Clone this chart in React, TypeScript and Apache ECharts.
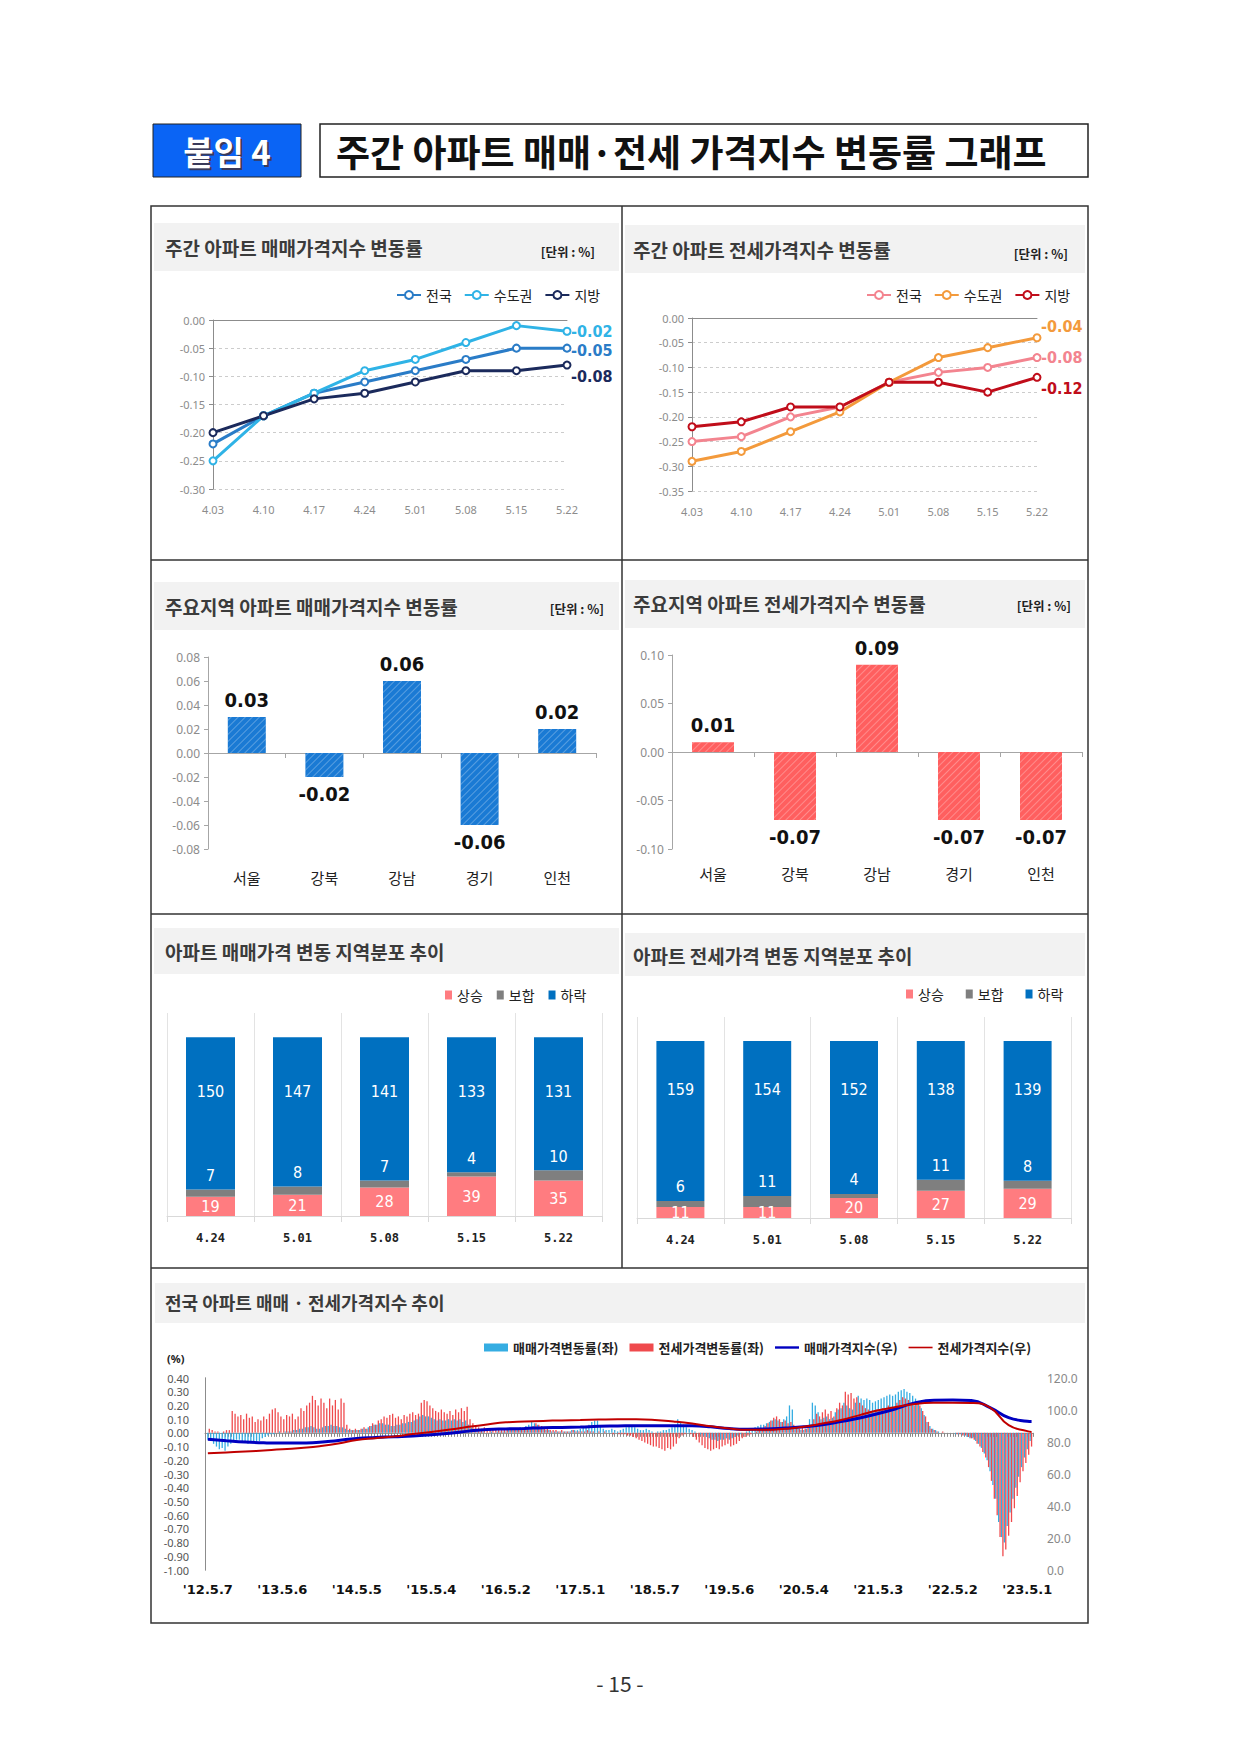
import React, { useEffect, useRef } from 'react';
import * as echarts from 'echarts';

const KR = '"Noto Sans CJK KR", "Noto Sans", sans-serif';
const NARROW = '"Liberation Sans Narrow", "DejaVu Sans Condensed", Roboto, sans-serif';
const SANS = '"Noto Sans", "DejaVu Sans", sans-serif';

// ---- weekly change rates (top) ----
const weekLabels = ['4.03', '4.10', '4.17', '4.24', '5.01', '5.08', '5.15', '5.22'];
const saleNation = [-0.22, -0.17, -0.13, -0.11, -0.09, -0.07, -0.05, -0.05];
const saleCapital = [-0.25, -0.17, -0.13, -0.09, -0.07, -0.04, -0.01, -0.02];
const saleLocal = [-0.2, -0.17, -0.14, -0.13, -0.11, -0.09, -0.09, -0.08];
const jeonseNation = [-0.25, -0.24, -0.2, -0.18, -0.13, -0.11, -0.1, -0.08];
const jeonseCapital = [-0.29, -0.27, -0.23, -0.19, -0.13, -0.08, -0.06, -0.04];
const jeonseLocal = [-0.22, -0.21, -0.18, -0.18, -0.13, -0.13, -0.15, -0.12];

// ---- major regions ----
const regions = ['서울', '강북', '강남', '경기', '인천'];
const regionSale = [0.03, -0.02, 0.06, -0.06, 0.02];
const regionJeonse = [0.01, -0.07, 0.09, -0.07, -0.07];

// ---- regional distribution ----
const distWeeks = ['4.24', '5.01', '5.08', '5.15', '5.22'];
const saleUp = [19, 21, 28, 39, 35];
const saleFlat = [7, 8, 7, 4, 10];
const saleDown = [150, 147, 141, 133, 131];
const jeonseUp = [11, 11, 20, 27, 29];
const jeonseFlat = [6, 11, 4, 11, 8];
const jeonseDown = [159, 154, 152, 138, 139];

// ---- long-term trend ('12.5.7 ~ '23.5.22, biweekly, in 0.01 %) ----
const trendTickLabels = ["'12.5.7", "'13.5.6", "'14.5.5", "'15.5.4", "'16.5.2", "'17.5.1", "'18.5.7", "'19.5.6", "'20.5.4", "'21.5.3", "'22.5.2", "'23.5.1"];
const saleChange = [
  -5, -6, -8, -10, -12, -11, -13, -10, -8, -6, -5, -5, -6, -7, -8, -7, -6, -8, -6, -4, -3, -2, -1, -1, 0, 1,
  0, 1, 1, 1, 2, 2, 3, 3, 4, 4, 5, 4, 3, 3, 4, 5, 5, 6, 5, 5, 4, 4, 3, 2, 2, 2,
  2, 2, 3, 3, 4, 5, 6, 6, 7, 7, 6, 6, 5, 5, 6, 6, 7, 7, 8, 8, 9, 10, 12, 13, 12, 12,
  11, 10, 9, 10, 9, 9, 10, 9, 10, 9, 10, 8, 9, 6, 4, 3, 2, 1, 1, 0, 0, 1, 0, 1, 1, 1,
  1, 2, 2, 3, 3, 4, 4, 5, 6, 8, 7, 6, 3, 3, 2, 2, 1, 1, 1, 1, 1, 1, 1, 2, 2, 2,
  3, 4, 5, 6, 8, 9, 9, 5, 3, 2, 2, 3, 2, 1, 2, 3, 4, 5, 5, 4, 3, 2, 2, 3, 2, 1,
  0, 1, 1, 2, 2, 3, 4, 5, 10, 8, 6, 4, 3, 2, 1, 0, -1, -2, -3, -4, -5, -5, -6, -5, -5, -4,
  -5, -4, -3, -2, -1, 0, 1, 2, 3, 4, 5, 6, 6, 7, 8, 9, 10, 9, 8, 10, 12, 20, 17, 5, 3, 2,
  2, 3, 10, 22, 20, 15, 10, 11, 12, 10, 11, 15, 17, 18, 22, 20, 18, 17, 22, 27, 25, 24, 25, 24, 22, 23,
  24, 25, 26, 27, 28, 27, 28, 30, 31, 32, 30, 29, 27, 25, 22, 18, 13, 8, 5, 3, 2, 1, 0, 0, 0, 0,
  0, -1, -1, -1, -2, -3, -4, -4, -6, -8, -11, -15, -20, -28, -38, -48, -65, -76, -80, -68, -58, -48, -40, -32, -25, -18,
  -12, -6,
];
const jeonseChange = [
  3, 2, 1, 1, 0, 1, 2, 2, 16, 14, 12, 13, 10, 14, 11, 12, 8, 10, 9, 12, 10, 14, 17, 18, 15, 12,
  10, 13, 12, 14, 10, 12, 18, 16, 20, 22, 27, 24, 20, 25, 22, 18, 25, 20, 24, 17, 25, 22, 6, 3, 2, 3,
  2, 3, 4, 3, 5, 7, 6, 9, 10, 12, 11, 13, 14, 11, 12, 10, 13, 12, 14, 15, 13, 14, 22, 24, 23, 20,
  18, 16, 15, 17, 15, 14, 16, 13, 17, 15, 18, 16, 19, 10, 7, 5, 4, 3, 4, 3, 2, 3, 2, 3, 2, 2,
  3, 3, 2, 3, 2, 3, 4, 3, 4, 5, 7, 6, 5, 3, 3, 2, 2, 2, 1, 2, 1, 1, 1, 2, 1, 1,
  1, 1, 2, 1, 1, 0, 1, 0, 1, 0, 0, -1, 0, -1, -1, -1, -2, -2, -3, -4, -5, -6, -7, -8, -9, -10,
  -10, -11, -12, -13, -11, -12, -10, -8, -4, -2, -1, 0, -1, -3, -5, -7, -9, -11, -12, -13, -12, -11, -12, -10, -9, -8,
  -10, -9, -8, -6, -4, -3, -2, -1, 0, 1, 2, 3, 5, 7, 9, 11, 12, 10, 8, 9, 7, 8, 6, 4, 3, 5,
  3, 4, 6, 10, 14, 12, 15, 17, 14, 16, 12, 18, 22, 20, 30, 28, 29, 25, 26, 22, 20, 18, 17, 16, 15, 17,
  16, 18, 17, 20, 19, 18, 22, 24, 26, 25, 24, 22, 20, 22, 20, 16, 12, 8, 3, 2, 1, 0, 1, 0, 0, 0,
  0, -1, -1, -2, -2, -3, -4, -5, -8, -10, -14, -18, -25, -35, -48, -60, -76, -90, -85, -75, -65, -55, -46, -36, -28, -22,
  -16, -10,
];
const indexWeeks = [0, 13, 26, 39, 52, 65, 78, 91, 104, 117, 130, 143, 156, 169, 182, 195, 208, 221, 234, 247, 260, 273, 286, 299, 312, 325, 338, 351, 364, 377, 390, 403, 416, 429, 442, 455, 468, 481, 494, 507, 520, 533, 546, 559, 572, 575];
const saleIndex = [81.7, 80.8, 80.0, 79.5, 79.3, 79.4, 79.8, 81.0, 82.2, 82.8, 83.3, 83.8, 84.5, 85.5, 86.8, 87.8, 88.2, 88.5, 88.9, 89.1, 89.4, 89.8, 90.0, 90.2, 90.2, 90.2, 90.1, 89.5, 88.4, 88.0, 88.1, 88.7, 89.5, 90.8, 92.8, 95.0, 97.8, 101.0, 104.6, 106.1, 106.2, 105.9, 101.5, 95.2, 93.0, 92.8];
const jeonseIndex = [73.0, 73.5, 74.0, 74.7, 75.4, 76.3, 77.4, 79.0, 81.3, 82.4, 83.5, 85.0, 86.3, 87.8, 89.5, 91.0, 92.3, 92.8, 93.2, 93.5, 93.7, 94.0, 94.2, 94.2, 93.8, 92.8, 91.5, 89.8, 88.4, 87.6, 87.6, 88.3, 89.5, 91.5, 93.8, 96.8, 99.8, 102.0, 103.8, 104.5, 104.6, 104.4, 101.5, 90.5, 86.8, 86.3];

const legendNames: Record<string, string> = {
  sN: '전국', sC: '수도권', sL: '지방',
  jN: '전국', jC: '수도권', jL: '지방',
  suUp: '상승', suFlat: '보합', suDown: '하락',
  juUp: '상승', juFlat: '보합', juDown: '하락',
  saleRate: '매매가격변동률(좌)', jeonseRate: '전세가격변동률(좌)', saleIdx: '매매가격지수(우)', jeonseIdx: '전세가격지수(우)',
};

const fmt = (v: number, d: number) => (Math.abs(v) < 1e-9 ? 0 : v).toFixed(d);

function buildOption(): any {
  const lineSeries = (name: string, data: number[], color: string, ax: number, dy: number) => ({
    type: 'line', name, data, xAxisIndex: ax, yAxisIndex: ax === 0 ? 0 : 1,
    symbol: 'emptyCircle', symbolSize: 7, color,
    lineStyle: { width: 3, color }, itemStyle: { color, borderWidth: 2 },
    endLabel: {
      show: true, color, fontFamily: NARROW, fontWeight: 'bold', fontSize: 16, offset: [0, dy], distance: 4,
      formatter: (p: any) => fmt(Array.isArray(p.value) ? p.value[1] : p.value, 2),
    },
  });

  const lineLabelX = (gridIndex: number) => ({
    type: 'category', gridIndex, data: weekLabels, boundaryGap: false,
    axisLine: { show: false, onZero: false }, axisTick: { show: false },
    axisLabel: { color: '#8c8c8c', fontSize: 11, margin: 15, fontFamily: SANS },
  });
  const lineTopX = (gridIndex: number) => ({
    type: 'category', gridIndex, data: weekLabels, boundaryGap: false, position: 'top',
    axisLine: { show: true, onZero: false, lineStyle: { color: '#8c8c8c', width: 1 } },
    axisTick: { show: false }, axisLabel: { show: false },
  });
  const lineY = (gridIndex: number, min: number) => ({
    type: 'value', gridIndex, min, max: 0, interval: 0.05,
    axisLine: { show: true, lineStyle: { color: '#8c8c8c' } },
    axisTick: { show: true, length: 4, lineStyle: { color: '#8c8c8c' } },
    axisLabel: { color: '#8c8c8c', fontSize: 11, fontFamily: SANS, margin: 8, formatter: (v: number) => fmt(v, 2) },
    splitLine: { show: true, lineStyle: { color: '#cccccc', type: [3, 3] } },
  });
  const zeroX = (gridIndex: number) => ({
    type: 'category', gridIndex, data: regions,
    axisLine: { show: true, onZero: true, lineStyle: { color: '#a6a6a6' } },
    axisTick: { show: true, length: 5, lineStyle: { color: '#a6a6a6' } },
    axisLabel: { show: false },
  });
  const catX = (gridIndex: number, margin: number) => ({
    type: 'category', gridIndex, data: regions, position: 'bottom',
    axisLine: { show: false, onZero: false }, axisTick: { show: false },
    axisLabel: { color: '#222', fontSize: 15, margin, fontFamily: KR },
  });
  const barY = (gridIndex: number, min: number, max: number, interval: number) => ({
    type: 'value', gridIndex, min, max, interval,
    axisLine: { show: true, lineStyle: { color: '#a6a6a6' } },
    axisTick: { show: true, length: 4, lineStyle: { color: '#a6a6a6' } },
    axisLabel: { color: '#8c8c8c', fontSize: 12, fontFamily: SANS, margin: 8, formatter: (v: number) => fmt(v, 2) },
    splitLine: { show: false },
  });
  const distX = (gridIndex: number) => ({
    type: 'category', gridIndex, data: distWeeks,
    axisLine: { show: true, lineStyle: { color: '#d9d9d9' } },
    axisTick: { show: true, length: 6, lineStyle: { color: '#d9d9d9' } },
    splitLine: { show: true, lineStyle: { color: '#e3e3e3' } },
    axisLabel: { fontFamily: '"DejaVu Sans Mono", monospace', fontWeight: 'bold', fontSize: 12, color: '#222', margin: 16 },
  });

  const regionBar = (name: string, values: number[], color: string, xi: number, yi: number, width: number) => ({
    type: 'bar', name, xAxisIndex: xi, yAxisIndex: yi, barWidth: width,
    data: values.map((v) => ({ value: v, label: { position: v >= 0 ? 'top' : 'bottom' } })),
    itemStyle: {
      color,
      decal: { symbol: 'rect', symbolSize: 1, dashArrayX: [1, 0], dashArrayY: [1, 4], rotation: -Math.PI / 4, color: 'rgba(255,255,255,0.28)' },
    },
    label: {
      show: true, distance: 7, fontFamily: NARROW, fontWeight: 'bold', fontSize: 20, color: '#111',
      formatter: (p: any) => fmt(p.value, 2),
    },
  });

  const distSeries = (prefix: string, up: number[], flat: number[], down: number[], xi: number, yi: number, width: number, topDist: number) => [
    {
      type: 'bar', name: prefix + 'Up', stack: prefix, data: up, xAxisIndex: xi, yAxisIndex: yi, barWidth: width,
      itemStyle: { color: '#ff7c80' },
      label: { show: true, position: 'inside', color: '#fff', fontFamily: NARROW, fontSize: 16 },
    },
    {
      type: 'bar', name: prefix + 'Flat', stack: prefix, data: flat, xAxisIndex: xi, yAxisIndex: yi, barWidth: width,
      itemStyle: { color: '#7f7f7f' },
      label: { show: true, position: 'top', distance: 6, color: '#fff', fontFamily: NARROW, fontSize: 16 },
    },
    {
      type: 'bar', name: prefix + 'Down', stack: prefix, data: down, xAxisIndex: xi, yAxisIndex: yi, barWidth: width,
      itemStyle: { color: '#0070c0' },
      label: { show: true, position: 'insideTop', distance: topDist, color: '#fff', fontFamily: NARROW, fontSize: 16 },
    },
  ];

  const legendBase = {
    selectedMode: false, formatter: (n: string) => legendNames[n] ?? n,
    textStyle: { fontFamily: KR, fontSize: 14, color: '#222' },
  };

  const txt = (x: number, y: number, text: string, o: any = {}) => ({
    type: 'text', x, y,
    style: { text, fontFamily: KR, fontSize: 19, fontWeight: 'bold', fill: '#3b3b3b', textAlign: 'left', textVerticalAlign: 'middle', ...o },
  });
  const band = (x: number, y: number, w: number, h: number) => ({
    type: 'rect', shape: { x, y, width: w, height: h }, style: { fill: '#f2f2f2' }, z: 0,
  });
  const hline = (x1: number, y1: number, x2: number, y2: number) => ({
    type: 'line', shape: { x1, y1, x2, y2 }, style: { stroke: '#333', lineWidth: 1.5 },
  });
  const unit = (x: number, y: number) => txt(x, y, '[단위 : %]', { fontSize: 12.5, fill: '#222', textAlign: 'right' });

  return {
    animation: false,
    backgroundColor: '#ffffff',
    textStyle: { fontFamily: KR },
    grid: [
      { left: 213, top: 320, width: 354, height: 169 },
      { left: 692, top: 318, width: 345, height: 173 },
      { left: 208, top: 657, width: 388, height: 192 },
      { left: 672, top: 655, width: 410, height: 194 },
      { left: 167, top: 1013, width: 435, height: 203 },
      { left: 637, top: 1017, width: 434, height: 201 },
      { left: 205, top: 1378, width: 828, height: 192 },
    ],
    xAxis: [
      lineLabelX(0), lineTopX(0), lineLabelX(1), lineTopX(1),
      zeroX(2), catX(2, 21), zeroX(3), catX(3, 17),
      distX(4), distX(5),
      {
        type: 'value', gridIndex: 6, min: 0, max: 578, interval: 2,
        axisLine: { show: true, onZero: true, onZeroAxisIndex: 6, lineStyle: { color: '#9a9a9a', width: 1 } },
        axisTick: { show: true, length: 4, lineStyle: { color: '#8a8a8a', width: 1 } },
        axisLabel: { show: false }, splitLine: { show: false },
      },
      {
        type: 'value', gridIndex: 6, min: 0, max: 578, interval: 2, position: 'bottom',
        axisLine: { show: false, onZero: false }, axisTick: { show: false }, splitLine: { show: false },
        axisLabel: {
          fontFamily: '"DejaVu Sans", sans-serif', fontWeight: 'bold', fontSize: 13, color: '#111', margin: 13,
          formatter: (v: number) => {
            const w = Math.round(v) - 2;
            return w >= 0 && w % 52 === 0 && w / 52 < trendTickLabels.length ? trendTickLabels[w / 52] : '';
          },
        },
      },
    ],
    yAxis: [
      lineY(0, -0.3), lineY(1, -0.35),
      barY(2, -0.08, 0.08, 0.02), barY(3, -0.1, 0.1, 0.05),
      { type: 'value', gridIndex: 4, min: 0, max: 200, show: false },
      { type: 'value', gridIndex: 5, min: 0, max: 200, show: false },
      {
        type: 'value', gridIndex: 6, min: -1, max: 0.4, interval: 0.1, position: 'left',
        axisLine: { show: true, lineStyle: { color: '#8c8c8c' } }, axisTick: { show: false }, splitLine: { show: false },
        axisLabel: { color: '#555', fontSize: 11, lineHeight: 11, fontFamily: SANS, margin: 16, formatter: (v: number) => fmt(v, 2) },
      },
      {
        type: 'value', gridIndex: 6, min: 0, max: 120, interval: 20, position: 'right',
        axisLine: { show: true, lineStyle: { color: '#8c8c8c' } }, axisTick: { show: false }, splitLine: { show: false },
        axisLabel: { color: '#888', fontSize: 12, fontFamily: SANS, margin: 14, formatter: (v: number) => fmt(v, 1) },
      },
    ],
    legend: [
      { ...legendBase, data: ['sN', 'sC', 'sL'], left: 391, top: 283, itemWidth: 24, itemHeight: 10, itemGap: 12 },
      { ...legendBase, data: ['jN', 'jC', 'jL'], left: 861, top: 283, itemWidth: 24, itemHeight: 10, itemGap: 12 },
      { ...legendBase, data: ['suUp', 'suFlat', 'suDown'], left: 440, top: 983, icon: 'rect', itemWidth: 7, itemHeight: 9, itemGap: 14 },
      { ...legendBase, data: ['juUp', 'juFlat', 'juDown'], left: 901, top: 982, icon: 'rect', itemWidth: 7, itemHeight: 9, itemGap: 22 },
      {
        ...legendBase,
        data: [
          { name: 'saleRate', icon: 'rect' },
          { name: 'jeonseRate', icon: 'rect' },
          { name: 'saleIdx', icon: 'path://M0,0 H30 V3 H0 Z' },
          { name: 'jeonseIdx', icon: 'path://M0,0 H30 V2 H0 Z' },
        ],
        left: 479, top: 1336, itemWidth: 24, itemHeight: 8, itemGap: 11,
        textStyle: { fontFamily: KR, fontSize: 13, fontWeight: 'bold', color: '#222' },
      },
    ],
    series: [
      lineSeries('sN', saleNation, '#2a7cc7', 0, 2),
      lineSeries('sC', saleCapital, '#2fb3e6', 0, 0),
      lineSeries('sL', saleLocal, '#1b2a5c', 0, 11),
      lineSeries('jN', jeonseNation, '#f3848f', 2, 0),
      lineSeries('jC', jeonseCapital, '#f39a3c', 2, -11),
      lineSeries('jL', jeonseLocal, '#c00d1a', 2, 11),
      regionBar('regionSale', regionSale, '#1a7ad4', 4, 2, 38),
      regionBar('regionJeonse', regionJeonse, '#ff5f5f', 6, 3, 42),
      ...distSeries('su', saleUp, saleFlat, saleDown, 8, 4, 49, 46),
      ...distSeries('ju', jeonseUp, jeonseFlat, jeonseDown, 9, 5, 48, 40),
      {
        type: 'bar', name: 'saleRate', xAxisIndex: 10, yAxisIndex: 6, barWidth: 1.3, barGap: '-100%',
        data: saleChange.map((v, i) => [2 * i + 2, v / 100]),
        itemStyle: { color: '#35ade2' },
      },
      {
        type: 'bar', name: 'jeonseRate', xAxisIndex: 10, yAxisIndex: 6, barWidth: 1.3, barGap: '-100%',
        data: jeonseChange.map((v, i) => [2 * i + 3, v / 100]),
        itemStyle: { color: '#ef4a4d' },
      },
      {
        type: 'line', name: 'saleIdx', xAxisIndex: 10, yAxisIndex: 7, smooth: true, symbol: 'none',
        data: indexWeeks.map((w, i) => [w + 2, saleIndex[i]]),
        color: '#0000c0', lineStyle: { color: '#0000c0', width: 3 },
      },
      {
        type: 'line', name: 'jeonseIdx', xAxisIndex: 10, yAxisIndex: 7, smooth: true, symbol: 'none',
        data: indexWeeks.map((w, i) => [w + 2, jeonseIndex[i]]),
        color: '#c00000', lineStyle: { color: '#c00000', width: 2 },
      },
    ],
    graphic: [
      // header
      { type: 'rect', shape: { x: 153, y: 124, width: 148, height: 53 }, style: { fill: '#0a64f5', stroke: '#222', lineWidth: 1 } },
      txt(229, 153, '붙임 4', { fontSize: 33, fill: '#3a3a5a', textAlign: 'center' }),
      txt(227, 151, '붙임 4', { fontSize: 33, fill: '#ffffff', textAlign: 'center' }),
      { type: 'rect', shape: { x: 320, y: 124, width: 768, height: 53 }, style: { fill: '#fff', stroke: '#222', lineWidth: 1.5 } },
      txt(336, 151, '주간 아파트 매매·전세 가격지수 변동률 그래프', { fontSize: 37, fill: '#111' }),
      // frame
      { type: 'rect', shape: { x: 151, y: 206, width: 937, height: 1417 }, style: { fill: 'none', stroke: '#333', lineWidth: 1.5 } },
      hline(151, 560, 1088, 560), hline(151, 914, 1088, 914), hline(151, 1268, 1088, 1268), hline(622, 206, 622, 1268),
      // bands and titles
      band(154, 223, 465, 48), band(625, 225, 460, 48),
      band(154, 582, 465, 48), band(625, 580, 460, 48),
      band(154, 928, 465, 46), band(625, 933, 460, 43),
      band(155, 1283, 930, 40),
      txt(165, 247, '주간 아파트 매매가격지수 변동률'), unit(595, 251),
      txt(633, 249, '주간 아파트 전세가격지수 변동률'), unit(1068, 253),
      txt(165, 606, '주요지역 아파트 매매가격지수 변동률'), unit(604, 608),
      txt(633, 603, '주요지역 아파트 전세가격지수 변동률'), unit(1071, 605),
      txt(165, 951, '아파트 매매가격 변동 지역분포 추이'),
      txt(633, 955, '아파트 전세가격 변동 지역분포 추이'),
      txt(165, 1302, '전국 아파트 매매 · 전세가격지수 추이', { fontSize: 18 }),
      txt(167, 1358, '(%)', { fontSize: 11, fill: '#222', fontFamily: SANS }),
      // page number
      txt(620, 1683, '- 15 -', { fontSize: 21, fontWeight: 'normal', fill: '#333', textAlign: 'center' }),
    ],
  };
}

export default function App() {
  const ref = useRef<HTMLDivElement>(null);
  useEffect(() => {
    if (!ref.current) return;
    const chart = echarts.init(ref.current, null, { renderer: 'svg' });
    chart.setOption(buildOption());
    return () => chart.dispose();
  }, []);
  return (
    <div
      ref={ref}
      style={{ position: 'absolute', left: 0, top: 0, width: 1241, height: 1755, background: '#fff' }}
    />
  );
}
